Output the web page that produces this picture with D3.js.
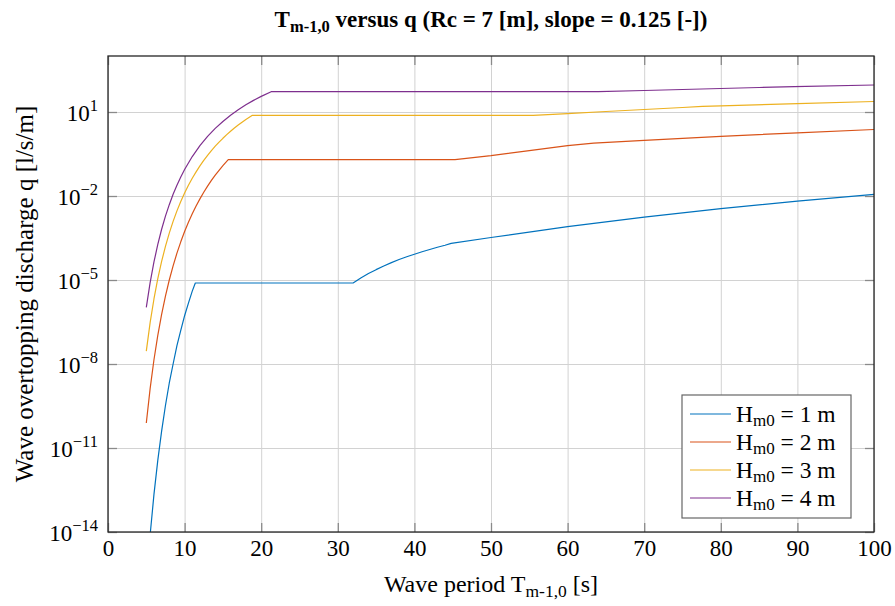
<!DOCTYPE html>
<html>
<head>
<meta charset="utf-8">
<script src="https://cdn.jsdelivr.net/npm/d3@7"></script>
<style>
  body { margin: 0; background: #fff; }
  svg { display: block; }
  text { font-family: "Liberation Serif", "Times New Roman", serif; fill: #000; }
</style>
</head>
<body>
<svg id="chart" width="895" height="606"></svg>
<script>
// Wave period T_m-1,0 [s] and overtopping discharge q [l/s/m], one pair per wave height
const periodH1 = [5, 5.5, 6, 6.5, 7, 7.5, 8, 8.5, 9, 9.5, 10, 10.5, 11, 11.4, 32, 33, 34, 35, 36, 37, 38, 39, 40, 41, 42, 43, 44, 44.8, 50, 60, 70, 80, 90, 100];
const dischargeH1 = [1.5e-16, 7.9e-15, 2.2e-13, 3.6e-12, 4.0e-11, 3.3e-10, 2.1e-9, 1.0e-8, 4.5e-8, 1.6e-7, 5.3e-7, 1.5e-6, 4.0e-6, 7.8e-6, 7.8e-6, 1.17e-5, 1.70e-5, 2.34e-5, 3.16e-5, 4.17e-5, 5.37e-5, 6.76e-5, 8.3e-5, 1.02e-4, 1.23e-4, 1.48e-4, 1.74e-4, 2.04e-4, 3.3e-4, 8.1e-4, 1.77e-3, 3.55e-3, 6.6e-3, 1.15e-2];

const periodH2 = [5, 5.5, 6, 6.5, 7, 7.5, 8, 8.5, 9, 9.5, 10, 10.5, 11, 11.5, 12, 12.5, 13, 13.5, 14, 14.5, 15, 15.7, 45.3, 50, 55, 60, 63.4, 70, 80, 90, 100];
const dischargeH2 = [7.8e-11, 1.32e-9, 1.42e-8, 1.06e-7, 5.9e-7, 2.67e-6, 1.0e-5, 3.2e-5, 9.1e-5, 2.31e-4, 5.4e-4, 1.16e-3, 2.32e-3, 4.4e-3, 7.9e-3, 1.36e-2, 2.25e-2, 3.6e-2, 5.6e-2, 8.3e-2, 0.122, 0.198, 0.198, 0.275, 0.42, 0.63, 0.77, 0.97, 1.35, 1.81, 2.37];

const periodH3 = [5, 5.5, 6, 6.5, 7, 7.5, 8, 8.5, 9, 9.5, 10, 10.5, 11, 11.5, 12, 12.5, 13, 13.5, 14, 14.5, 15, 15.5, 16, 16.5, 17, 17.5, 18, 18.8, 55.5, 60, 65, 70, 75, 77.6, 80, 90, 100];
const dischargeH3 = [2.9e-8, 3.0e-7, 2.1e-6, 1.11e-5, 4.6e-5, 1.59e-4, 4.7e-4, 1.24e-3, 2.94e-3, 6.4e-3, 1.28e-2, 2.41e-2, 4.3e-2, 7.3e-2, 0.119, 0.187, 0.283, 0.418, 0.60, 0.84, 1.15, 1.55, 2.05, 2.67, 3.43, 4.34, 5.42, 7.56, 7.56, 8.8, 10.4, 12.3, 14.5, 15.8, 16.5, 19.9, 23.7];

const periodH4 = [5, 5.5, 6, 6.5, 7, 7.5, 8, 8.5, 9, 9.5, 10, 11, 12, 13, 14, 15, 16, 17, 18, 19, 20, 21.3, 64, 70, 75, 80, 85, 89.6, 100];
const dischargeH4 = [1.05e-6, 8.0e-6, 4.4e-5, 1.86e-4, 6.5e-4, 1.91e-3, 4.9e-3, 1.15e-2, 2.44e-2, 4.8e-2, 8.8e-2, 0.256, 0.625, 1.34, 2.59, 4.60, 7.66, 12.0, 18.0, 26.0, 36.2, 53, 53, 58.5, 63.5, 69, 75, 81, 92];

const waveHeights = ["1", "2", "3", "4"];
const seriesColors = ["#0072BD", "#D95319", "#EDB120", "#7E2F8E"];
const xTickValues = [0, 10, 20, 30, 40, 50, 60, 70, 80, 90, 100];
const yTickExponents = [-14, -11, -8, -5, -2, 1];

const series = [
  { h: waveHeights[0], T: periodH1, q: dischargeH1, color: seriesColors[0] },
  { h: waveHeights[1], T: periodH2, q: dischargeH2, color: seriesColors[1] },
  { h: waveHeights[2], T: periodH3, q: dischargeH3, color: seriesColors[2] },
  { h: waveHeights[3], T: periodH4, q: dischargeH4, color: seriesColors[3] }
];

const W = 895, H = 606;
const margin = { top: 56, right: 21, bottom: 74, left: 108 };
const innerW = W - margin.left - margin.right;
const innerH = H - margin.top - margin.bottom;

const svg = d3.select("#chart");
const g = svg.append("g").attr("transform", `translate(${margin.left},${margin.top})`);

const x = d3.scaleLinear().domain([0, 100]).range([0, innerW]);
const y = d3.scaleLog().domain([1e-14, 1e3]).range([innerH, 0]);
const yTickValues = yTickExponents.map(e => Math.pow(10, e));

g.append("defs").append("clipPath").attr("id", "plotClip")
  .append("rect").attr("width", innerW).attr("height", innerH);

// grid
const gridColor = "#d2d2d2";
g.append("g").attr("class", "xgrid")
  .call(d3.axisBottom(x).tickValues(xTickValues).tickSize(innerH).tickFormat(""))
  .call(s => s.select(".domain").remove())
  .call(s => s.selectAll("line").attr("stroke", gridColor).attr("stroke-width", 1));
g.append("g").attr("class", "ygrid")
  .call(d3.axisLeft(y).tickValues(yTickValues).tickSize(-innerW).tickFormat(""))
  .call(s => s.select(".domain").remove())
  .call(s => s.selectAll("line").attr("stroke", gridColor).attr("stroke-width", 1));

// inner tick marks on all four sides
const tickLen = 9, tickColor = "#8a8a8a";
const tickStyle = s => {
  s.select(".domain").remove();
  s.selectAll("line").attr("stroke", tickColor).attr("stroke-width", 1.3);
  s.selectAll("text").remove();
};
g.append("g").attr("transform", `translate(0,${innerH})`)
  .call(d3.axisTop(x).tickValues(xTickValues).tickSize(tickLen)).call(tickStyle);
g.append("g")
  .call(d3.axisBottom(x).tickValues(xTickValues).tickSize(tickLen)).call(tickStyle);
g.append("g")
  .call(d3.axisRight(y).tickValues(yTickValues).tickSize(tickLen)).call(tickStyle);
g.append("g").attr("transform", `translate(${innerW},0)`)
  .call(d3.axisLeft(y).tickValues(yTickValues).tickSize(tickLen)).call(tickStyle);

// lines
const line = d3.line().x(d => x(d[0])).y(d => y(d[1]));
const lines = g.append("g").attr("clip-path", "url(#plotClip)");
series.forEach(s => {
  lines.append("path")
    .datum(d3.zip(s.T, s.q))
    .attr("fill", "none")
    .attr("stroke", s.color)
    .attr("stroke-width", 1.2)
    .attr("stroke-linejoin", "round")
    .attr("d", line);
});

// frame
g.append("rect").attr("width", innerW).attr("height", innerH)
  .attr("fill", "none").attr("stroke", "#262626").attr("stroke-width", 1.3);

// x tick labels
g.append("g").attr("transform", `translate(0,${innerH})`)
  .call(d3.axisBottom(x).tickValues(xTickValues).tickSize(0).tickPadding(8))
  .call(s => s.select(".domain").remove())
  .call(s => s.selectAll("text").attr("font-size", 23).attr("font-family", "Liberation Serif").attr("fill", "#000"));

// y tick labels as powers of ten
const yLabels = g.append("g")
  .call(d3.axisLeft(y).tickValues(yTickValues).tickSize(0).tickPadding(10).tickFormat(""))
  .call(s => s.select(".domain").remove());
yLabels.selectAll(".tick text").each(function(d) {
  const t = d3.select(this).attr("font-size", 23).attr("font-family", "Liberation Serif").attr("fill", "#000").attr("dy", "0.35em");
  const e = Math.round(Math.log10(d));
  t.append("tspan").text("10");
  t.append("tspan").attr("font-size", 16.5).attr("dy", "-0.55em").text(e < 0 ? "\u2212" + (-e) : String(e));
});

// title
const title = svg.append("text")
  .attr("x", margin.left + innerW / 2).attr("y", 27)
  .attr("text-anchor", "middle").attr("font-weight", "bold").attr("font-size", 23);
title.append("tspan").text("T");
title.append("tspan").attr("font-size", 16.5).attr("dy", 5).text("m-1,0");
title.append("tspan").attr("dy", -5).text(" versus q (Rc = 7 [m], slope = 0.125 [-])");

// x axis label
const xl = svg.append("text")
  .attr("x", margin.left + innerW / 2).attr("y", 592)
  .attr("text-anchor", "middle").attr("font-size", 24);
xl.append("tspan").text("Wave period T");
xl.append("tspan").attr("font-size", 17.5).attr("dy", 5).text("m-1,0");
xl.append("tspan").attr("dy", -5).text(" [s]");

// y axis label
svg.append("text")
  .attr("transform", `translate(33,${margin.top + innerH / 2}) rotate(-90)`)
  .attr("text-anchor", "middle").attr("font-size", 25)
  .text("Wave overtopping discharge q [l/s/m]");

// legend
const legend = svg.append("g").attr("transform", "translate(682,395)");
legend.append("rect").attr("width", 169).attr("height", 123)
  .attr("fill", "#fff").attr("stroke", "#666").attr("stroke-width", 1.2);
series.forEach((s, i) => {
  const row = legend.append("g").attr("transform", `translate(0,${19 + i * 28})`);
  row.append("line").attr("x1", 8).attr("x2", 49).attr("stroke", s.color).attr("stroke-width", 1.2);
  const t = row.append("text").attr("x", 54).attr("dy", "0.35em").attr("font-size", 23.5);
  t.append("tspan").text("H");
  t.append("tspan").attr("font-size", 17).attr("dy", 4).text("m0");
  t.append("tspan").attr("dy", -4).text(` = ${s.h} m`);
});
</script>
</body>
</html>
